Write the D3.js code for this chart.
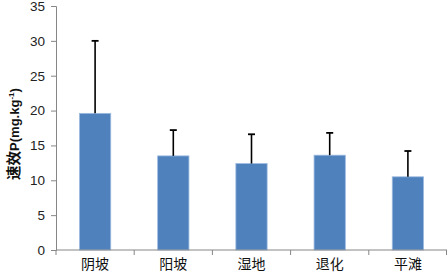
<!DOCTYPE html>
<html>
<head>
<meta charset="utf-8">
<script src="https://cdn.jsdelivr.net/npm/d3@7"></script>
<style>
  body { margin: 0; background: #fff; }
  text { font-family: "Noto Sans CJK SC", "Liberation Sans", sans-serif; }
</style>
</head>
<body>
<div id="chart"></div>
<script>
// data
const categories = ["阴坡", "阳坡", "湿地", "退化", "平滩"];
const values = [19.6, 13.5, 12.4, 13.6, 10.5];
const errors = [10.4, 3.7, 4.2, 3.2, 3.7];
const yTicks = [0, 5, 10, 15, 20, 25, 30, 35];

const W = 448, H = 272;
const margin = { top: 6, right: 1, bottom: 22, left: 56 };

const svg = d3.select("#chart").append("svg")
    .attr("width", W)
    .attr("height", H);

const x = d3.scaleBand()
    .domain(categories)
    .range([margin.left, W - margin.right])
    .paddingInner(0.6)
    .paddingOuter(0.3);

const xEdge = d3.scaleBand()
    .domain(categories)
    .range([margin.left, W - margin.right]);

const y = d3.scaleLinear()
    .domain([0, 35])
    .range([H - margin.bottom, margin.top]);

const axisColor = "#868686";

// y axis
const yAxis = svg.append("g")
    .attr("transform", "translate(" + margin.left + ",0)")
    .call(d3.axisLeft(y).tickValues(yTicks).tickSize(5).tickPadding(6));
yAxis.select(".domain").attr("stroke", axisColor);
yAxis.selectAll(".tick line").attr("stroke", axisColor);
yAxis.selectAll(".tick text")
    .style("font-family", "'Liberation Sans', sans-serif")
    .style("font-size", "13.5px")
    .attr("fill", "#222");

// bars
svg.selectAll(".bar")
    .data(values)
    .enter().append("rect")
    .attr("class", "bar")
    .attr("x", (d, i) => x(categories[i]))
    .attr("y", d => y(d))
    .attr("width", x.bandwidth())
    .attr("height", d => y(0) - y(d))
    .style("fill", "#4f81bd")
    .style("stroke", "#9dbbe0")
    .style("stroke-width", 0.8);

// error bars (upper only)
const err = svg.selectAll(".err")
    .data(values)
    .enter().append("g")
    .attr("class", "err")
    .attr("transform", (d, i) => "translate(" + (x(categories[i]) + x.bandwidth() / 2) + ",0)");

err.append("line")
    .attr("y1", d => y(d))
    .attr("y2", (d, i) => y(d + errors[i]))
    .style("stroke", "#000")
    .style("stroke-width", 1.6);

err.append("line")
    .attr("x1", -3.5)
    .attr("x2", 3.5)
    .attr("y1", (d, i) => y(d + errors[i]))
    .attr("y2", (d, i) => y(d + errors[i]))
    .style("stroke", "#000")
    .style("stroke-width", 1.8);

// x axis
const base = H - margin.bottom;
svg.append("line")
    .attr("x1", margin.left).attr("x2", W - margin.right)
    .attr("y1", base).attr("y2", base)
    .style("stroke", axisColor);

const edges = categories.map(c => xEdge(c)).concat([W - margin.right - 0.5]);
svg.selectAll(".xtick")
    .data(edges)
    .enter().append("line")
    .attr("class", "xtick")
    .attr("x1", d => d).attr("x2", d => d)
    .attr("y1", base).attr("y2", base + 5)
    .style("stroke", axisColor);

svg.selectAll(".xlabel")
    .data(categories)
    .enter().append("text")
    .attr("class", "xlabel")
    .attr("x", d => xEdge(d) + xEdge.bandwidth() / 2)
    .attr("y", base + 19)
    .attr("text-anchor", "middle")
    .style("font-size", "14px")
    .style("fill", "#111")
    .text(d => d);

// y axis title
const title = svg.append("text")
    .attr("transform", "translate(19,134) rotate(-90)")
    .attr("text-anchor", "middle")
    .style("font-family", "'Liberation Sans', 'Noto Sans CJK SC', sans-serif")
    .style("font-size", "13px")
    .style("font-weight", "bold")
    .style("fill", "#111");
title.append("tspan").style("font-size", "14.5px").text("速效");
title.append("tspan").text("P(mg.kg");
title.append("tspan").attr("dy", -5).style("font-size", "8px").text("-1");
title.append("tspan").attr("dy", 5).text(")");
</script>
</body>
</html>
